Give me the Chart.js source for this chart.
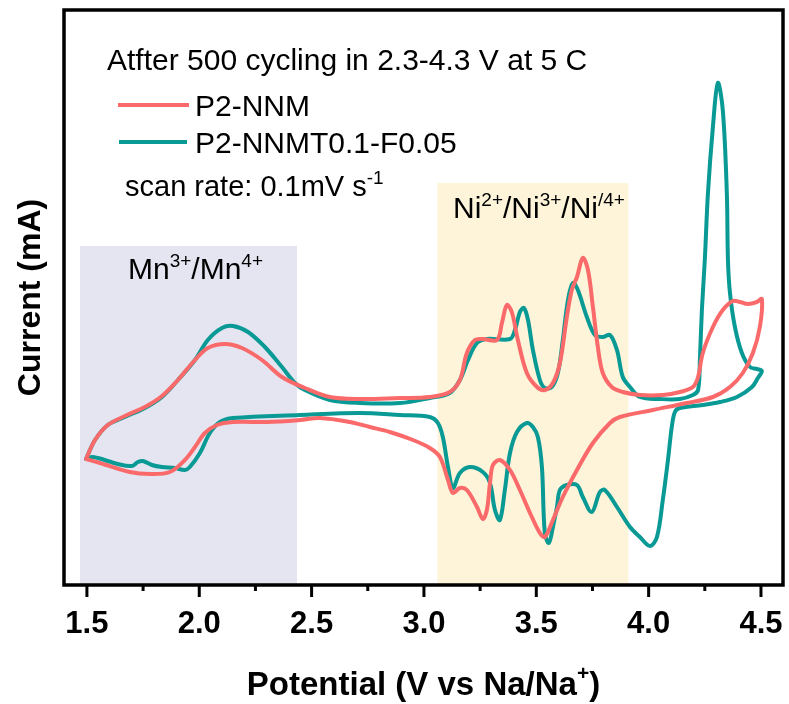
<!DOCTYPE html>
<html>
<head>
<meta charset="utf-8">
<script src="https://cdn.jsdelivr.net/npm/chart.js@4.4.1/dist/chart.umd.min.js"></script>
<style>
  html, body { margin: 0; padding: 0; background: #fff; }
  #wrap { width: 789px; height: 704px; }
</style>
</head>
<body>
<div id="wrap"><canvas id="cv" width="789" height="704"></canvas></div>
<script>
// ===== CV curves after 500 cycles =====

// Potential (V) / current (mA, arbitrary offset), in scan order
const nnmLoop = [
    [1.496,-0.195],[1.536,-0.10],[1.593,-0.025],[1.669,0.02],[1.758,0.065],[1.834,0.12],[1.905,0.20],
    [1.981,0.30],[2.038,0.36],[2.114,0.38],[2.190,0.36],[2.279,0.30],[2.368,0.215],[2.470,0.16],
    [2.581,0.115],[2.715,0.105],[2.893,0.11],[3.026,0.115],[3.115,0.14],[3.160,0.20],[3.191,0.335],
    [3.227,0.40],[3.262,0.405],[3.325,0.40],[3.347,0.485],[3.369,0.575],[3.391,0.54],[3.418,0.40],
    [3.458,0.235],[3.503,0.165],[3.538,0.15],[3.574,0.185],[3.605,0.285],[3.636,0.515],[3.658,0.65],
    [3.681,0.715],[3.707,0.81],[3.730,0.75],[3.752,0.565],[3.774,0.365],[3.796,0.235],[3.836,0.165],
    [3.885,0.14],[3.961,0.125],[4.063,0.125],[4.139,0.14],[4.197,0.165],[4.220,0.215],[4.241,0.335],
    [4.286,0.465],[4.330,0.55],[4.375,0.595],[4.406,0.59],[4.442,0.58],[4.482,0.59],[4.504,0.605],
    [4.495,0.465],[4.464,0.335],[4.419,0.235],[4.362,0.165],[4.286,0.115],[4.170,0.085],[4.019,0.05],
    [3.872,0.015],[3.828,-0.015],[3.752,-0.115],[3.681,-0.25],[3.618,-0.385],[3.574,-0.50],
    [3.538,-0.585],[3.516,-0.565],[3.472,-0.465],[3.427,-0.35],[3.383,-0.25],[3.338,-0.20],
    [3.307,-0.225],[3.294,-0.315],[3.280,-0.45],[3.262,-0.495],[3.236,-0.435],[3.191,-0.35],
    [3.160,-0.34],[3.129,-0.365],[3.107,-0.30],[3.071,-0.185],[3.026,-0.14],[2.951,-0.10],
    [2.848,-0.06],[2.759,-0.035],[2.670,-0.01],[2.537,0.01],[2.448,0.0],[2.301,-0.01],[2.150,-0.01],
    [2.079,-0.025],[2.025,-0.065],[1.981,-0.135],[1.936,-0.20],[1.869,-0.26],[1.780,-0.27],
    [1.691,-0.26],[1.558,-0.215],[1.496,-0.195]
];

const nnmtfLoop = [
    [1.496,-0.195],[1.536,-0.10],[1.593,-0.025],[1.669,0.015],[1.758,0.06],[1.834,0.115],[1.905,0.20],
    [1.981,0.30],[2.038,0.40],[2.101,0.46],[2.150,0.47],[2.217,0.44],[2.292,0.365],[2.368,0.265],
    [2.426,0.185],[2.470,0.15],[2.581,0.10],[2.715,0.085],[2.893,0.085],[3.026,0.11],[3.115,0.135],
    [3.160,0.20],[3.196,0.30],[3.236,0.385],[3.280,0.405],[3.383,0.405],[3.405,0.45],[3.427,0.54],
    [3.445,0.56],[3.463,0.50],[3.485,0.35],[3.516,0.20],[3.538,0.16],[3.569,0.165],[3.596,0.235],
    [3.618,0.40],[3.641,0.60],[3.663,0.685],[3.685,0.65],[3.725,0.515],[3.761,0.425],[3.796,0.415],
    [3.828,0.425],[3.859,0.35],[3.885,0.215],[3.917,0.165],[3.961,0.115],[4.050,0.105],[4.139,0.105],
    [4.197,0.125],[4.220,0.15],[4.228,0.30],[4.237,0.55],[4.250,0.80],[4.264,1.135],[4.286,1.465],
    [4.308,1.685],[4.330,1.55],[4.348,1.135],[4.353,0.80],[4.362,0.635],[4.384,0.465],[4.415,0.335],
    [4.451,0.265],[4.482,0.255],[4.504,0.245],
    [4.486,0.21],[4.460,0.165],[4.393,0.115],[4.317,0.09],[4.241,0.075],[4.139,0.06],[4.117,0.04],
    [4.103,-0.035],[4.086,-0.20],[4.063,-0.40],[4.037,-0.585],[4.006,-0.63],[3.961,-0.585],
    [3.917,-0.535],[3.859,-0.435],[3.805,-0.35],[3.783,-0.36],[3.747,-0.46],[3.707,-0.385],
    [3.681,-0.325],[3.636,-0.325],[3.605,-0.35],[3.592,-0.435],[3.574,-0.535],[3.556,-0.615],
    [3.538,-0.565],[3.525,-0.235],[3.507,-0.085],[3.485,-0.035],[3.458,-0.015],[3.414,-0.06],
    [3.383,-0.165],[3.360,-0.35],[3.338,-0.50],[3.316,-0.45],[3.294,-0.315],[3.262,-0.26],
    [3.205,-0.235],[3.160,-0.265],[3.129,-0.34],[3.107,-0.235],[3.084,-0.085],[3.062,-0.015],
    [3.026,0.015],[2.893,0.025],[2.715,0.035],[2.448,0.025],[2.150,0.01],[2.092,-0.01],[2.047,-0.065],
    [2.003,-0.165],[1.958,-0.235],[1.936,-0.25],[1.892,-0.24],[1.834,-0.235],[1.789,-0.225],
    [1.749,-0.205],[1.727,-0.21],[1.700,-0.23],[1.638,-0.22],[1.549,-0.19],[1.522,-0.185],[1.496,-0.195]
];

const seriesNames = ['P2-NNM', 'P2-NNMT0.1-F0.05'];
const xTicks = [1.5, 2.0, 2.5, 3.0, 3.5, 4.0, 4.5];
const xTickLabels = ['1.5', '2.0', '2.5', '3.0', '3.5', '4.0', '4.5'];
const xMinorTicks = [1.75, 2.25, 2.75, 3.25, 3.75, 4.25];

// Shaded redox windows: [V from, V to, top current]
const mnBand = [1.469, 2.435, 0.87];
const niBand = [3.06, 3.91, 1.185];

const RED = '#fb6a6a';
const TEAL = '#0a9a95';
const FONT = "'Liberation Sans', Arial, sans-serif";

// draw a run of text pieces, some raised as superscripts
function drawRich(ctx, parts, x, y, size) {
    let cx = x;
    parts.forEach(([txt, sup]) => {
        ctx.font = (sup ? Math.round(size * 0.64) : size) + 'px ' + FONT;
        ctx.fillText(txt, cx, sup ? y - size * 0.4 : y);
        cx += ctx.measureText(txt).width;
    });
}

const decorPlugin = {
    id: 'decor',
    beforeDatasetsDraw(chart) {
        const { ctx, chartArea, scales } = chart;
        const x = scales.x, y = scales.y;
        ctx.save();
        [[mnBand, '#e5e5f1'], [niBand, '#fdf4da']].forEach(([b, col]) => {
            const x0 = x.getPixelForValue(b[0]);
            const x1 = x.getPixelForValue(b[1]);
            const yt = y.getPixelForValue(b[2]);
            ctx.fillStyle = col;
            ctx.fillRect(x0, yt, x1 - x0, chartArea.bottom - yt);
        });
        ctx.restore();
    },
    afterDraw(chart) {
        const { ctx, chartArea, scales } = chart;
        const x = scales.x;
        ctx.save();

        // frame
        ctx.strokeStyle = '#000';
        ctx.lineWidth = 3.5;
        ctx.strokeRect(chartArea.left, chartArea.top, chartArea.right - chartArea.left, chartArea.bottom - chartArea.top);

        // outward ticks + labels
        ctx.lineWidth = 3;
        ctx.fillStyle = '#000';
        ctx.textAlign = 'center';
        ctx.textBaseline = 'alphabetic';
        ctx.font = 'bold 31px ' + FONT;
        xTicks.forEach((v, k) => {
            const px = x.getPixelForValue(v);
            ctx.beginPath();
            ctx.moveTo(px, chartArea.bottom);
            ctx.lineTo(px, chartArea.bottom + 12);
            ctx.stroke();
            ctx.fillText(xTickLabels[k], px, 633);
        });
        xMinorTicks.forEach(v => {
            const px = x.getPixelForValue(v);
            ctx.beginPath();
            ctx.moveTo(px, chartArea.bottom);
            ctx.lineTo(px, chartArea.bottom + 6);
            ctx.stroke();
        });

        ctx.textAlign = 'left';

        // annotations + legend
        ctx.font = '30px ' + FONT;
        ctx.fillText('Atfter 500 cycling in 2.3-4.3 V at 5 C', 107, 70);

        ctx.lineWidth = 4;
        ctx.strokeStyle = RED;
        ctx.beginPath(); ctx.moveTo(118, 105); ctx.lineTo(189, 105); ctx.stroke();
        ctx.strokeStyle = TEAL;
        ctx.beginPath(); ctx.moveTo(119, 142); ctx.lineTo(187, 142); ctx.stroke();
        ctx.font = '30px ' + FONT;
        ctx.fillText(seriesNames[0], 195, 116);
        ctx.fillText(seriesNames[1], 195, 153);

        drawRich(ctx, [['scan rate: 0.1mV s', false], ['-1', true]], 125, 196, 29);
        drawRich(ctx, [['Mn', false], ['3+', true], ['/Mn', false], ['4+', true]], 128, 279, 30);
        drawRich(ctx, [['Ni', false], ['2+', true], ['/Ni', false], ['3+', true], ['/Ni', false], ['/4+', true]], 453, 218, 30);

        // axis titles
        ctx.font = 'bold 33px ' + FONT;
        const main = 'Potential (V vs Na/Na';
        const wMain = ctx.measureText(main).width;
        ctx.font = 'bold 21px ' + FONT;
        const wSup = ctx.measureText('+').width;
        ctx.font = 'bold 33px ' + FONT;
        const wEnd = ctx.measureText(')').width;
        const cx = (chartArea.left + chartArea.right) / 2;
        const sx = cx - (wMain + wSup + wEnd) / 2;
        ctx.fillText(main, sx, 695);
        ctx.font = 'bold 21px ' + FONT;
        ctx.fillText('+', sx + wMain, 680);
        ctx.font = 'bold 33px ' + FONT;
        ctx.fillText(')', sx + wMain + wSup, 695);

        ctx.font = 'bold 32px ' + FONT;
        ctx.translate(31, (chartArea.top + chartArea.bottom) / 2);
        ctx.rotate(-Math.PI / 2);
        ctx.textAlign = 'center';
        ctx.textBaseline = 'middle';
        ctx.fillText('Current (mA)', 0, 0);

        ctx.restore();
    }
};

const toPts = arr => arr.map(([v, i]) => ({ x: v, y: i }));

new Chart(document.getElementById('cv'), {
    type: 'scatter',
    data: {
        datasets: [
            {
                label: seriesNames[0],
                data: toPts(nnmLoop),
                borderColor: RED,
                showLine: true
            },
            {
                label: seriesNames[1],
                data: toPts(nnmtfLoop),
                borderColor: TEAL,
                showLine: true
            }
        ]
    },
    options: {
        responsive: false,
        animation: false,
        layout: { padding: { left: 64, right: 6, top: 10, bottom: 0 } },
        elements: {
            point: { radius: 0 },
            line: { borderWidth: 4, tension: 0.35, borderCapStyle: 'round', borderJoinStyle: 'round' }
        },
        plugins: {
            legend: { display: false },
            tooltip: { enabled: false }
        },
        scales: {
            x: {
                type: 'linear',
                min: 1.398,
                max: 4.598,
                grid: { display: false, drawTicks: false },
                border: { display: false },
                afterBuildTicks: scale => {
                    scale.ticks = xTicks.map(v => ({ value: v }));
                },
                afterFit: scale => { scale.height = 119; },
                ticks: { display: false }
            },
            y: {
                display: false,
                min: -0.825,
                max: 2.05
            }
        }
    },
    plugins: [decorPlugin]
});
</script>
</body>
</html>
